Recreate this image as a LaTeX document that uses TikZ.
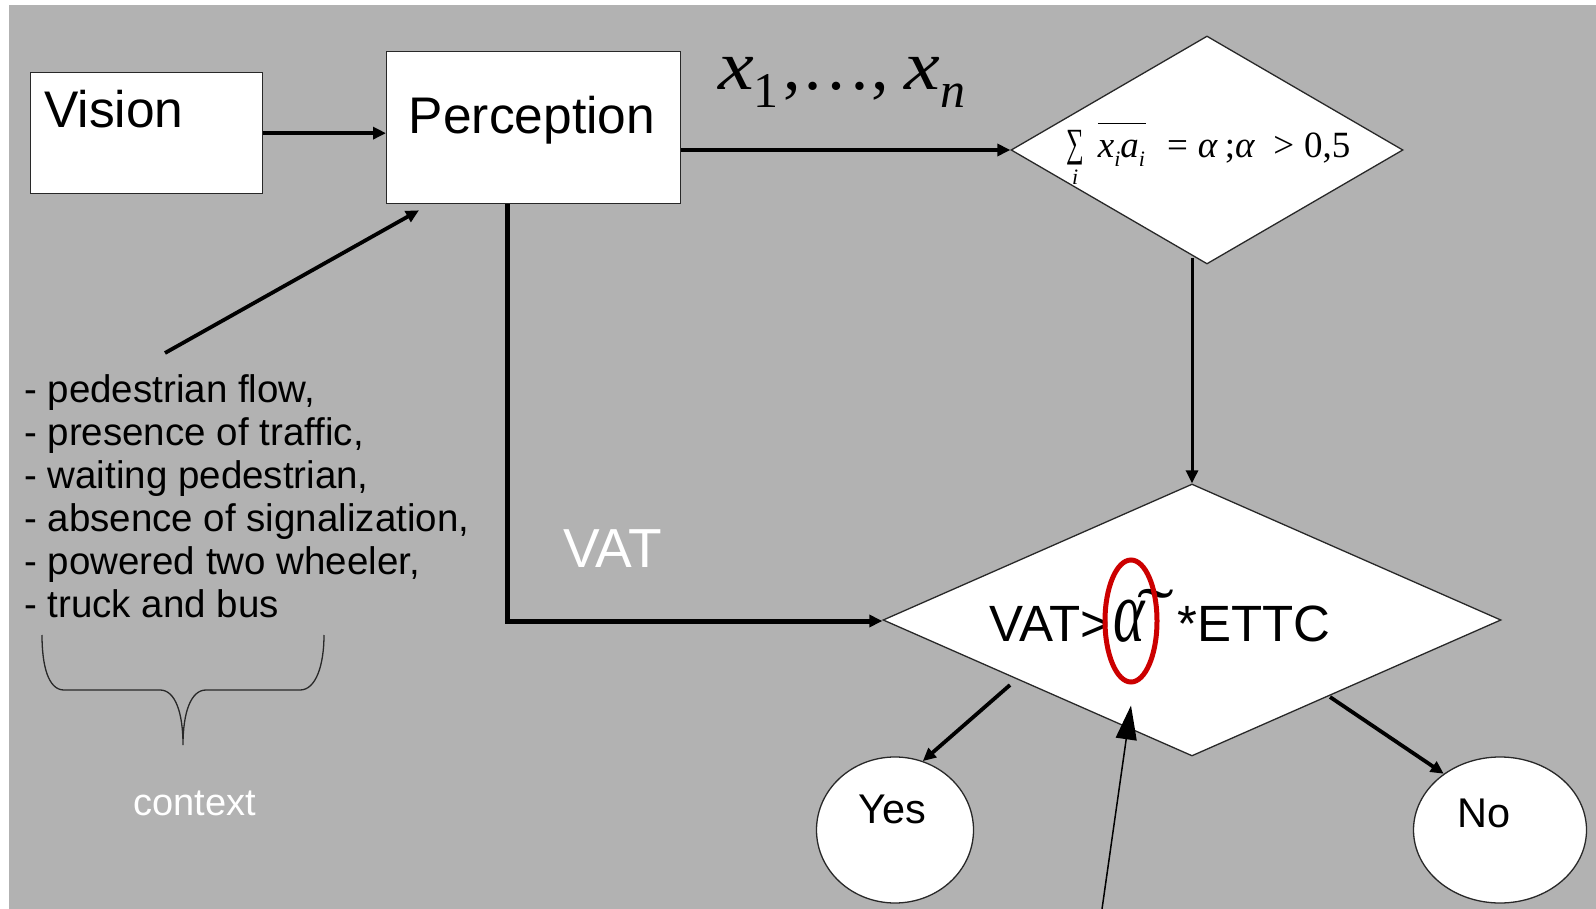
\documentclass[tikz,border=0pt]{standalone}
\usepackage{fontspec}
\usepackage{graphicx}
\usetikzlibrary{shapes.geometric,arrows.meta}
\setmainfont{Liberation Sans}
\newfontfamily\lss{Liberation Sans}
\newfontfamily\lsr{Liberation Serif}
\definecolor{bggray}{RGB}{178,178,178}
\definecolor{boxline}{RGB}{40,40,40}
\definecolor{ringred}{RGB}{204,0,0}
\newcommand\mysub[1]{\raisebox{-9pt}{\fontsize{22}{22}\selectfont\itshape #1}}
\newcommand\bigsub[1]{\raisebox{-18pt}{\fontsize{50}{50}\selectfont #1}}
\tikzset{
  box/.style={draw=boxline, fill=white, line width=1.3pt, inner sep=0pt},
  dia/.style={diamond, draw=boxline, fill=white, line width=1.3pt, inner sep=0pt},
  oval/.style={ellipse, draw=boxline, fill=white, line width=1.3pt, inner sep=0pt},
  arr/.style={-{Triangle[length=13pt,width=12pt]}, line width=3.8pt, draw=black},
  bigtxt/.style={font=\lss\fontsize{51.5}{60}\selectfont, inner sep=0pt},
  midtxt/.style={font=\lss\fontsize{41.5}{48}\selectfont, inner sep=0pt},
}
\begin{document}
\begin{tikzpicture}[x=1pt,y=-1pt]
\useasboundingbox (0,0) rectangle (1596,909);
\fill[white] (0,0) rectangle (1596,909);
\fill[bggray] (9,5) rectangle (1596,909);

% boxes
\node[box, minimum width=232pt, minimum height=121pt, anchor=north west] (vision) at (30,72) {};
\node[bigtxt, anchor=base west] (visiontxt) at (44,128) {Vision};
\node[box, minimum width=294pt, minimum height=152pt, anchor=north west] (perc) at (386,51) {};
\node[bigtxt, anchor=base] (perctxt) at (532,134) {Perception};

% diamonds
\node[dia, minimum width=392pt, minimum height=228pt, shape aspect=1.72] (d1) at (1207,150) {};
\node[dia, minimum width=618pt, minimum height=272pt, shape aspect=2.27] (d2) at (1192,620) {};

% formula in first diamond
\node[inner sep=0pt, anchor=base west, font=\lsr\fontsize{37}{37}\selectfont] (f1) at (1066,158) {%
\rlap{\raisebox{-27pt}{\hspace{6pt}\fontsize{22}{22}\selectfont\itshape i}}%
\raisebox{1pt}{\scalebox{0.62}[1]{\fontsize{40}{40}\selectfont ∑}}%
\hspace{14pt}%
\rlap{\raisebox{34pt}{\rule{48pt}{1.3pt}}}%
\textit{x}\mysub{i}\textit{a}\mysub{i}\hspace{22pt}=\hspace{10pt}\textit{α}\hspace{7pt};\textit{α}\hspace{18pt}>\hspace{10pt}0,5};

% x1,...,xn
\node[inner sep=0pt, anchor=base west, font=\lsr\fontsize{70}{70}\selectfont] (xs) at (718,90)
  {\scalebox{1.15}[1]{\textit{x}}\bigsub{1}\hspace{5pt},…,\hspace{16pt}\scalebox{1.15}[1]{\textit{x}}\bigsub{\textit{n}}};

% text in second diamond
\node[inner sep=0pt, anchor=base west, font=\lss\fontsize{51}{51}\selectfont] (d2txt) at (989,641)
  {VAT>\hspace{3pt}{\lsr\itshape\scalebox{0.68}[1]{\fontsize{88}{88}\selectfont α}}\hspace{-8pt}\raisebox{5pt}{\scalebox{2.2}[1.4]{\lsr\fontsize{50}{50}\selectfont\symbol{"02DC}}}\hspace{4pt}*ETTC};
\node[ellipse, draw=ringred, line width=5pt, minimum width=52pt, minimum height=122pt, inner sep=0pt] (ring) at (1131,621) {};

% VAT label
\node[font=\lss\fontsize{55}{60}\selectfont, inner sep=0pt, anchor=base west, text=white] (vatlbl) at (563,567) {VAT};

% context list
\node[inner sep=0pt, anchor=base west, font=\lss\fontsize{38.5}{43.2}\selectfont] (ctxlist) at (24,402)
  {\begin{tabular}[t]{@{}l@{}}- pedestrian flow,\\- presence of traffic,\\- waiting pedestrian,\\- absence of signalization,\\- powered two wheeler,\\- truck and bus\end{tabular}};
\draw[line width=1.3pt, draw=boxline] (42,635) .. controls (42,665) and (48,690) .. (64,690) -- (160,690)
  .. controls (175,690) and (183,712) .. (183,745)
  .. controls (183,712) and (191,690) .. (206,690) -- (300,690)
  .. controls (316,690) and (324,665) .. (324,635);
\node[inner sep=0pt, anchor=base, text=white, font=\lss\fontsize{38}{38}\selectfont] (ctxlbl) at (194.5,815) {context};

% Yes / No
\node[oval, minimum width=157pt, minimum height=146pt] (yes) at (895,830) {};
\node[midtxt, anchor=base] (yestxt) at (892,823) {Yes};
\node[oval, minimum width=173pt, minimum height=146pt] (no) at (1500,830) {};
\node[midtxt, anchor=base] (notxt) at (1484,827) {No};

% connectors
\coordinate (vatcorner) at (507,621);
\coordinate (ctxs) at (165,353);
\coordinate (ys) at (1010,685);
\coordinate (ns) at (1330,697);
\coordinate (rs) at (1102,909);
\draw[arr] (vision.east) -- (vision.east -| perc.west);
\draw[arr] (perc.east |- d1.west) -- (d1.west);
\draw[arr, line width=3pt] ([yshift=7pt]d1.south -| d2.north) -- (d2.north);
\draw[arr, line width=5pt] (perc.south -| vatcorner) -- (vatcorner) -- (vatcorner -| d2.west);
\draw[arr] (ctxs) -- ([xshift=33pt,yshift=-6pt]perc.south west);
\draw[arr] (ys) -- (yes.68);
\draw[arr] (ns) -- (no.135);
\draw[line width=1.5pt, -{Triangle[length=34pt,width=21pt]}] (rs) -- ([yshift=-21pt]ring.south);
\end{tikzpicture}
\end{document}
